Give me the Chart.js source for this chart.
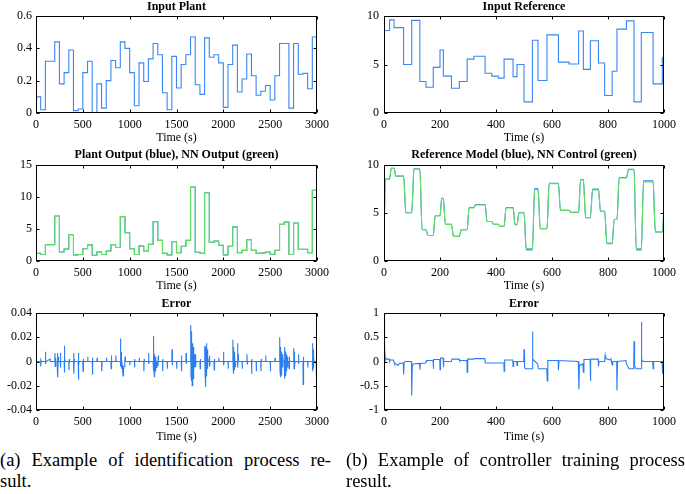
<!DOCTYPE html>
<html><head><meta charset="utf-8">
<script src="https://cdn.jsdelivr.net/npm/chart.js@4.4.1/dist/chart.umd.min.js"></script>
<style>
html,body{margin:0;padding:0;background:#fff;overflow:hidden;width:685px;height:494px;position:relative;}
canvas{position:absolute;}
.cap{position:absolute;font-family:"Liberation Serif","Times New Roman",serif;font-size:18.5px;line-height:23px;color:#000;white-space:nowrap;}
.j{text-align:justify;text-align-last:justify;}
</style>
</head><body>
<canvas id="c1" width="353" height="145" style="left:0;top:0"></canvas>
<canvas id="c2" width="358" height="145" style="left:345px;top:0"></canvas>
<canvas id="c3" width="353" height="148" style="left:0;top:145px"></canvas>
<canvas id="c4" width="358" height="148" style="left:345px;top:145px"></canvas>
<canvas id="c5" width="353" height="151" style="left:0;top:293px"></canvas>
<canvas id="c6" width="358" height="151" style="left:345px;top:293px"></canvas>
<div class="cap j" style="left:0;top:449px;width:331px">(a) Example of identification process re-</div>
<div class="cap" style="left:0;top:470px;width:331px">sult.</div>
<div class="cap j" style="left:346px;top:449px;width:339px">(b) Example of controller training process</div>
<div class="cap" style="left:346px;top:470px;width:339px">result.</div>
<script>
// ---------- data ----------
// identification: 50 s segments
const plantT = [0,50,100,150,200,250,300,350,400,450,500,550,600,650,700,750,800,850,900,950,
  1000,1050,1100,1150,1200,1250,1300,1350,1400,1450,1500,1550,1600,1650,1700,1750,1800,1850,1900,1950,
  2000,2050,2100,2150,2200,2250,2300,2350,2400,2450,2500,2550,2600,2650,2700,2750,2800,2850,2900,2950,3000];
const plantIn = [0.10,0.02,0.32,0.32,0.44,0.18,0.25,0.39,0.015,0.025, 0.25,0.32,0.0,0.18,0.03,0.20,0.325,0.28,0.44,0.40,
  0.25,0.045,0.31,0.195,0.335,0.43,0.36,0.125,0.02,0.35, 0.155,0.30,0.36,0.47,0.175,0.115,0.465,0.345,0.36,0.31,
  0.035,0.30,0.42,0.13,0.21,0.365,0.23,0.11,0.135,0.17, 0.08,0.23,0.43,0.43,0.03,0.43,0.24,0.245,0.15,0.47];
const plantOut = [1.2,1.0,2.55,2.55,7.0,1.4,1.85,4.1,0.95,1.0, 1.9,2.5,0.9,1.4,1.0,1.55,2.55,2.1,6.9,4.4,
  1.9,1.0,2.35,1.55,2.6,6.1,3.2,1.2,0.95,3.0, 1.3,2.3,3.2,11.5,1.35,1.2,10.6,2.9,3.1,2.45,
  0.95,2.3,5.3,1.3,1.65,3.3,1.65,1.2,1.25,1.4, 1.05,1.65,5.7,6.05,1.0,5.9,1.8,1.8,1.3,11.0];
const plantErr = [[0,0.003],[5,0],[48,0],[50,-0.004],[53,0.001],[56,0],[100,0],[101,0.008],[104,-0.002],[107,0],
  [150,0.002],[153,0],[200,0],[202,0.007],[205,-0.004],[208,0.003],[211,0],[225,0],[228,-0.006],[231,0.007],[234,-0.013],[238,0.004],[241,0],
  [258,0],[260,0.007],[263,-0.005],[266,0],[300,0],[302,0.013],[305,-0.009],[308,0.003],[311,0],[350,0],[352,-0.007],[355,0.002],[358,0],
  [400,0],[402,0.007],[405,-0.01],[408,0.002],[411,0],[450,0],[452,-0.015],[455,0.007],[458,-0.003],[461,0],[500,0],[502,-0.008],[505,0.002],[508,0],
  [550,0],[552,0.004],[555,0],[600,0],[602,-0.011],[605,0.003],[608,0],[650,0],[652,0.003],[655,0],[700,0],[702,-0.008],[705,0],
  [750,0],[752,0.003],[755,0],[800,0],[802,-0.006],[805,0.005],[808,0],[850,0],[852,0.005],[855,0],
  [900,0],[902,0.019],[905,-0.004],[908,0.008],[911,-0.006],[914,0.002],[920,-0.003],[925,-0.008],[930,-0.012],[935,-0.007],[940,-0.004],[948,0],[952,0.004],[955,0],
  [1000,0],[1002,-0.003],[1005,0],[1050,0],[1052,-0.005],[1055,0.002],[1058,0],[1100,0],[1102,0.003],[1105,0],[1150,0],[1152,-0.008],[1155,0.002],[1158,0],
  [1200,0],[1202,0.007],[1205,-0.002],[1208,0],[1250,0],[1252,0.021],[1255,-0.008],[1258,0.012],[1261,-0.01],[1264,0.006],[1268,-0.013],[1272,0.004],[1276,-0.008],[1280,0.002],[1285,-0.005],[1290,0],
  [1300,0],[1302,-0.004],[1305,0.005],[1308,0],[1350,0],[1352,-0.008],[1355,0.002],[1358,0],[1400,0],[1402,-0.006],[1405,0],[1450,0],[1452,0.01],[1455,-0.003],[1458,0],
  [1500,0],[1502,-0.006],[1505,0],[1550,0],[1552,0.005],[1555,-0.008],[1558,0],[1600,0],[1602,0.007],[1605,-0.002],[1608,0],
  [1650,0],[1652,0.03],[1655,-0.012],[1658,0.025],[1661,-0.016],[1664,0.02],[1667,-0.02],[1670,0.015],[1673,-0.018],[1676,0.01],[1679,-0.014],[1682,0.012],[1685,-0.008],[1688,0.006],[1692,-0.005],[1696,0.003],[1700,-0.004],[1703,0.006],[1706,-0.003],[1710,0],
  [1750,0],[1752,-0.006],[1755,0.002],[1758,0],[1800,0],[1802,0.013],[1805,-0.01],[1808,0.012],[1811,-0.021],[1814,0.009],[1817,-0.012],[1820,0.015],[1823,-0.008],[1826,0.01],[1830,-0.006],[1835,0.004],[1840,0],
  [1850,0],[1852,0.005],[1855,-0.004],[1858,0],[1900,0],[1902,-0.007],[1905,0.002],[1908,0],[1950,0],[1952,0.003],[1955,0],[2000,0],[2002,0.008],[2005,-0.003],[2008,0],
  [2050,0],[2052,-0.006],[2055,0],[2100,0],[2102,0.018],[2105,-0.006],[2108,0.012],[2111,-0.01],[2114,0.008],[2118,-0.007],[2122,0.005],[2126,-0.004],[2130,0],
  [2150,0],[2152,0.015],[2155,-0.005],[2158,0.006],[2162,0],[2200,0],[2202,-0.006],[2205,0],[2250,0],[2252,0.006],[2255,-0.002],[2258,0],
  [2300,0],[2302,-0.01],[2305,0.002],[2308,0],[2350,0],[2352,-0.008],[2355,0],[2400,0],[2402,-0.008],[2405,0.002],[2408,0],[2450,0],[2452,0.005],[2455,0],
  [2500,0],[2502,-0.008],[2505,0],[2550,0],[2552,0.003],[2555,0],
  [2600,0],[2602,0.02],[2605,-0.008],[2608,0.012],[2611,-0.013],[2614,0.01],[2617,-0.011],[2620,0.008],[2624,-0.009],[2628,0.006],[2632,-0.005],[2636,0.004],[2640,0],
  [2650,0],[2652,0.01],[2655,-0.014],[2658,0.012],[2661,-0.01],[2664,0.008],[2668,-0.012],[2672,0.006],[2676,-0.008],[2680,0.004],[2685,-0.005],[2690,0],
  [2700,0],[2702,-0.006],[2705,0.004],[2708,0],[2750,0],[2752,0.011],[2755,-0.006],[2758,0.008],[2762,-0.004],[2766,0],[2800,0],[2802,0.006],[2805,-0.002],[2808,0],
  [2850,0],[2852,-0.019],[2855,0.004],[2858,0],[2900,0],[2902,-0.005],[2905,0],
  [2950,0],[2952,0.015],[2955,-0.008],[2958,0.01],[2961,-0.006],[2964,0.004],[2968,0],[2990,0],[2995,-0.02],[2998,0.004],[3000,-0.008]];

// controller training: reference steps
const refT = [0,20,36,70,99,128,150,176,200,212,241,269,297,321,361,385,408,429,461,475,
  500,530,550,582,623,661,695,712,737,766,788,815,832,866,893,919,961,994,1000];
const refIn = [8.5,9.6,8.8,5.0,9.55,3.25,2.65,4.7,6.5,3.8,2.55,3.25,5.55,5.85,4.1,3.8,3.6,5.55,3.75,5.0,
  1.15,7.5,3.35,8.05,5.25,5.05,8.45,4.5,7.45,5.15,1.8,4.3,8.65,9.5,1.15,8.3,3.0,5.7];
const modelT = [0,5,20,26,36,42,70,78,99,107,128,136,150,157,176,183,200,206,212,219,
  241,248,269,276,297,304,321,327,361,368,385,391,408,414,429,436,461,468,475,482,
  500,508,530,538,550,558,582,590,623,630,661,667,695,702,712,720,737,745,766,773,
  788,796,815,822,832,840,866,873,893,901,919,927,961,969,994,1000];
const modelOut = [1.7,8.5,8.5,9.6,9.6,8.8,8.8,5.0,5.0,9.55,9.55,3.25,3.25,2.65,2.65,4.7,4.7,6.5,6.5,3.8,
  3.8,2.55,2.55,3.25,3.25,5.55,5.55,5.85,5.85,4.1,4.1,3.8,3.8,3.6,3.6,5.55,5.55,3.75,3.75,5.0,
  5.0,1.15,1.15,7.5,7.5,3.35,3.35,8.05,8.05,5.25,5.25,5.05,5.05,8.45,8.45,4.5,4.5,7.45,7.45,5.15,
  5.15,1.8,1.8,4.3,4.3,8.65,8.65,9.5,9.5,1.15,1.15,8.3,8.3,3.0,3.0,5.5];
const nnControl = [1.7,8.5,8.5,9.6,9.6,8.8,8.8,5.0,5.0,9.55,9.55,3.25,3.25,2.65,2.65,4.7,4.7,6.45,6.45,3.8,
  3.8,2.55,2.55,3.25,3.25,5.5,5.5,5.8,5.8,4.1,4.1,3.8,3.8,3.6,3.6,5.5,5.5,3.75,3.75,5.0,
  5.0,1.3,1.3,7.4,7.4,3.35,3.35,8.0,8.0,5.25,5.25,5.05,5.05,8.4,8.4,4.5,4.5,7.35,7.35,5.15,
  5.15,1.85,1.85,4.3,4.3,8.6,8.6,9.45,9.45,1.3,1.3,8.2,8.2,3.0,3.0,5.5];
const refErr = [[0,1.0],[2,0.3],[4,0.1],[6,0.05],[19,0.05],[20,0.0],[22,0.03],[34,0.03],[36,-0.02],[38,-0.05],[45,-0.05],[50,-0.08],[55,-0.04],
  [69,-0.03],[70,-0.27],[72,-0.02],[76,0.0],[98,0.0],[99,-0.7],[101,-0.1],[105,-0.05],[127,-0.04],[128,-0.17],[130,-0.04],
  [149,-0.03],[150,0.0],[152,0.02],[175,0.02],[176,-0.15],[178,0.04],[199,0.04],[200,-0.17],[202,0.07],[211,0.07],[212,-0.12],[214,0.0],
  [240,0.0],[243,0.05],[268,0.05],[270,0.02],[296,0.02],[297,-0.22],[299,0.05],[320,0.05],[322,0.06],[360,0.06],[362,-0.03],
  [428,-0.03],[429,-0.2],[431,0.03],[460,0.03],[461,-0.1],[463,0.0],[474,0.0],[475,-0.08],[477,0.0],[499,0.0],[500,0.25],[502,-0.12],[505,-0.15],
  [529,-0.15],[530,0.62],[532,0.05],[540,0.0],[549,-0.05],[551,-0.15],[581,-0.15],[583,-0.4],[585,0.02],
  [622,0.02],[623,-0.18],[625,0.02],[660,0.01],[694,0.0],[696,-0.57],[698,-0.08],[710,-0.05],[712,-0.22],[714,0.04],
  [736,0.04],[737,-0.4],[739,0.05],[765,0.05],[766,-0.1],[768,0.0],[788,0.0],[790,0.13],[792,0.06],[808,0.03],[810,0.07],[812,0.01],[815,-0.07],[817,0.0],
  [831,0.0],[832,-0.6],[834,0.0],[864,0.02],[866,-0.05],[870,-0.1],[875,-0.15],[892,-0.15],[893,0.42],[895,-0.1],[900,-0.15],
  [918,-0.15],[919,0.82],[921,0.05],[925,0.0],[960,0.0],[961,-0.15],[963,0.0],[993,0.0],[994,-0.25],[996,0.0],[1000,0.0]];

// ---------- rendering ----------
const SERIF = '"Liberation Serif","Times New Roman",serif';
const BLUE = '#3a86f2', GREEN = '#5fe05f', EBLUE = '#2a7ef0';

function stepPts(ts, vs) {
  const p = vs.map((v, i) => ({x: ts[i], y: v}));
  p.push({x: ts[ts.length - 1], y: vs[vs.length - 1]});
  return p;
}
function xyPts(ts, vs) { return vs.map((v, i) => ({x: ts[i], y: v})); }
function pairPts(arr) { return arr.map(a => ({x: a[0], y: a[1]})); }
function fmt(v) { return String(Math.round(v * 1e6) / 1e6); }

const framePlugin = {
  id: 'frame',
  afterDatasetsDraw(chart) {
    const {ctx, chartArea: a, scales: {x, y}} = chart;
    ctx.save();
    ctx.strokeStyle = '#000'; ctx.lineWidth = 1;
    const L = Math.round(a.left) + 0.5, R = Math.round(a.right) - 0.5;
    const T = Math.round(a.top) + 0.5, B = Math.round(a.bottom) - 0.5;
    ctx.strokeRect(L, T, R - L, B - T);
    ctx.beginPath();
    x.ticks.forEach(t => {
      const px = Math.round(x.getPixelForValue(t.value)) + 0.5;
      ctx.moveTo(px, B); ctx.lineTo(px, B - 3);
      ctx.moveTo(px, T); ctx.lineTo(px, T + 3);
    });
    y.ticks.forEach(t => {
      const py = Math.round(y.getPixelForValue(t.value)) + 0.5;
      ctx.moveTo(L, py); ctx.lineTo(L + 3, py);
      ctx.moveTo(R, py); ctx.lineTo(R - 3, py);
    });
    ctx.stroke();
    ctx.restore();
  }
};

function build(id, o) {
  return new Chart(document.getElementById(id), {
    type: 'line',
    data: {datasets: o.datasets},
    options: {
      responsive: false, animation: false, devicePixelRatio: 1,
      layout: {padding: 0},
      plugins: {
        legend: {display: false}, tooltip: {enabled: false},
        title: {display: true, text: o.title, color: '#000',
          font: {family: SERIF, size: 12, weight: 'bold', lineHeight: 1.2},
          padding: {top: o.tp, bottom: o.bp}}
      },
      elements: {point: {radius: 0}, line: {borderWidth: 1.1}},
      scales: {
        x: {type: 'linear', min: 0, max: o.xMax,
          ticks: {stepSize: o.xStep, padding: 5, color: '#000', font: {family: SERIF, size: 12}, maxRotation: 0, autoSkip: false, callback: v => fmt(v)},
          grid: {display: false, drawTicks: false}, border: {display: false},
          title: {display: true, text: 'Time (s)', color: '#000', font: {family: SERIF, size: 12}, padding: 0},
          afterFit: s => { s.height = o.xh; }},
        y: {type: 'linear', position: 'left', min: o.yMin, max: o.yMax,
          ticks: {stepSize: o.yStep, padding: o.yPad, color: '#000', font: {family: SERIF, size: 12}, callback: v => fmt(v)},
          grid: {display: false, drawTicks: false}, border: {display: false},
          afterFit: s => { s.width = o.yw; }},
        yR: {type: 'linear', position: 'right',
          ticks: {display: false}, grid: {display: false, drawTicks: false}, border: {display: false},
          afterFit: s => { s.width = o.yw; }}
      }
    },
    plugins: [framePlugin]
  });
}

const rowA = {tp: 0, bp: 1.6, xh: 32};
const rowB = {tp: 2.8, bp: 2.3, xh: 32};
const rowC = {tp: 3.8, bp: 1.8, xh: 34};
const colL = {xMax: 3000, xStep: 500, yw: 36, yPad: 4};
const colR = {xMax: 1000, xStep: 200, yw: 39, yPad: 5};

build('c1', Object.assign({}, rowA, colL, {title: 'Input Plant', yMin: 0, yMax: 0.6, yStep: 0.2,
  datasets: [{data: stepPts(plantT, plantIn), borderColor: BLUE, stepped: true}]}));
build('c2', Object.assign({}, rowA, colR, {title: 'Input Reference', yMin: 0, yMax: 10, yStep: 5,
  datasets: [{data: stepPts(refT, refIn), borderColor: BLUE, stepped: true}]}));
build('c3', Object.assign({}, rowB, colL, {title: 'Plant Output (blue), NN Output (green)', yMin: 0, yMax: 15, yStep: 5,
  datasets: [
    {data: stepPts(plantT, plantOut), borderColor: GREEN, stepped: true},
    {data: stepPts(plantT, plantOut), borderColor: BLUE, stepped: true}
  ]}));
build('c4', Object.assign({}, rowB, colR, {title: 'Reference Model (blue), NN Control (green)', yMin: 0, yMax: 10, yStep: 5,
  datasets: [
    {data: xyPts(modelT, nnControl), borderColor: GREEN, cubicInterpolationMode: 'monotone'},
    {data: xyPts(modelT, modelOut), borderColor: BLUE, borderWidth: 1.1, cubicInterpolationMode: 'monotone'}
  ]}));
build('c5', Object.assign({}, rowC, colL, {title: 'Error', yMin: -0.04, yMax: 0.04, yStep: 0.02,
  datasets: [{data: pairPts(plantErr), borderColor: EBLUE}]}));
build('c6', Object.assign({}, rowC, colR, {title: 'Error', yMin: -1, yMax: 1, yStep: 0.5,
  datasets: [{data: pairPts(refErr), borderColor: EBLUE}]}));
</script>
</body></html>
